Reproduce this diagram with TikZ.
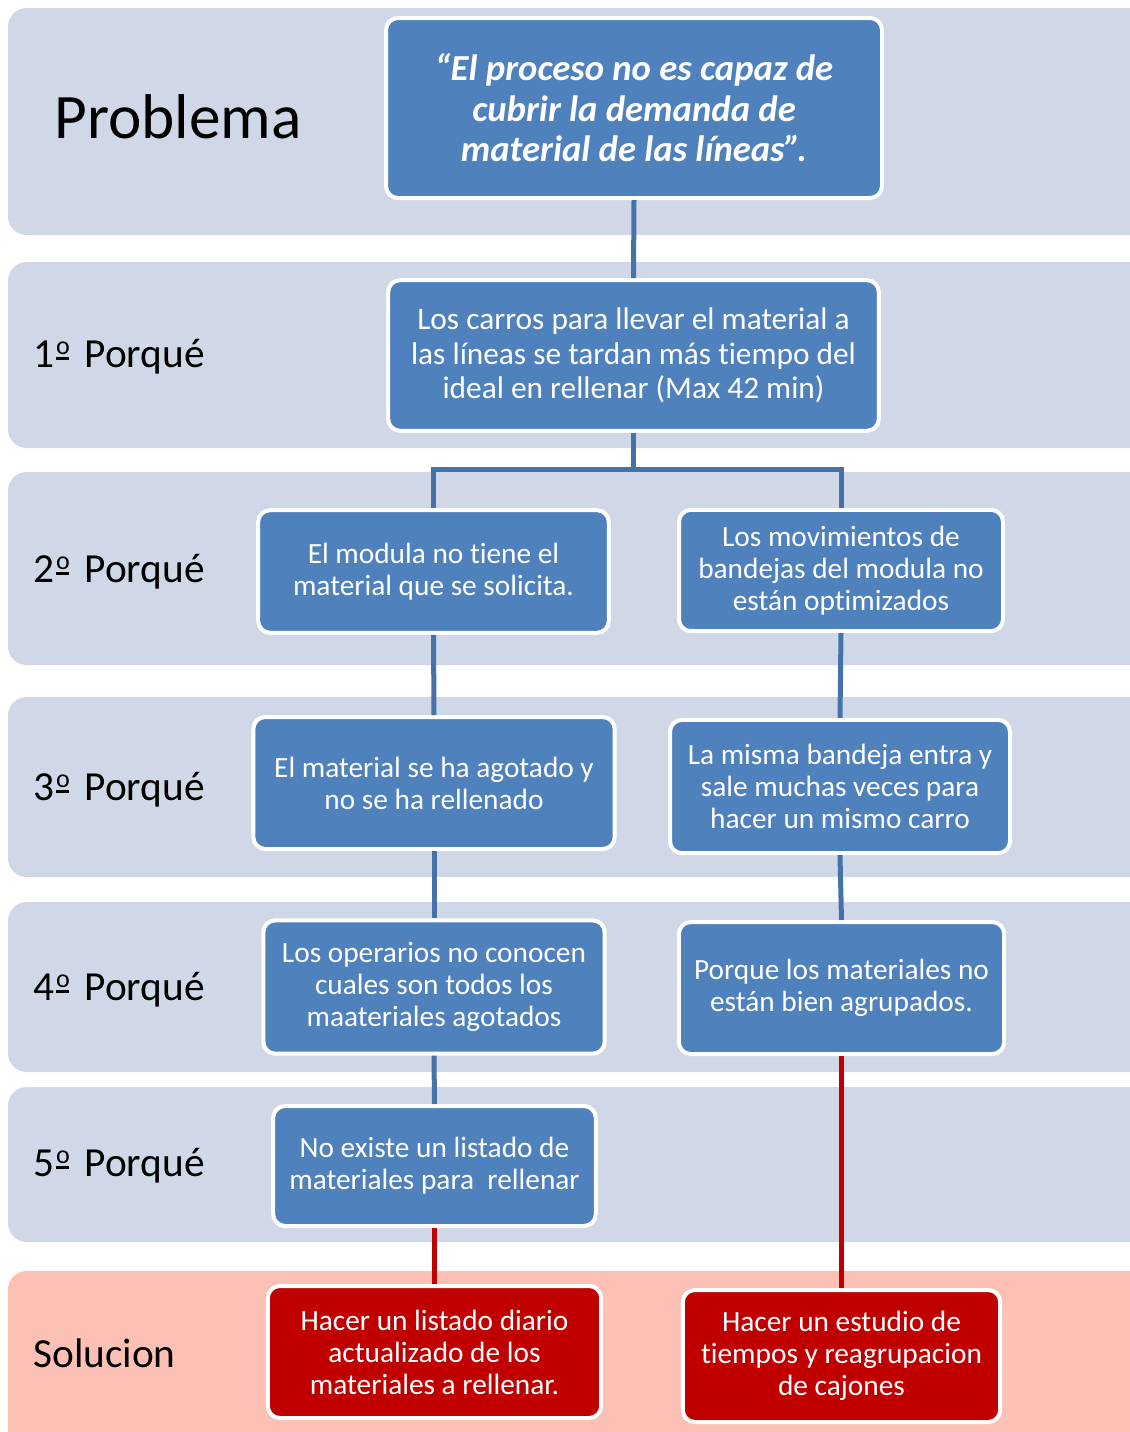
\documentclass[tikz,border=0pt]{standalone}
\usepackage{fontspec}
\setmainfont{Carlito}[Ligatures=CommonOff, RawFeature=-liga, RawFeature=-calt, RawFeature=-clig]
\usepackage{tikz}

\definecolor{bandblue}{HTML}{D0D8E8}
\definecolor{bandred}{HTML}{FCC1B4}
\definecolor{boxblue}{HTML}{4F81BD}
\definecolor{boxred}{HTML}{C00000}
\definecolor{lineblue}{HTML}{4672AA}

\newcommand\ordo{\hspace{1.5pt}\raisebox{5.6pt}{\rlap{\rule{9.8pt}{1.6pt}}}\raisebox{9.6pt}{\fontsize{19.5}{19.5}\selectfont o}\hspace{4pt}}

\tikzset{
  band/.style={fill=bandblue, draw=none, rounded corners=14},
  why/.style={draw=white, line width=3pt, fill=boxblue, rounded corners=9,
    text=white, align=center, inner sep=0pt,
    font=\fontsize{22}{24}\selectfont},
  fix/.style={why, fill=boxred},
  rowlabel/.style={anchor=base west, inner sep=0pt,
    font=\fontsize{31}{34}\selectfont},
  conn/.style={lineblue, line width=3.75pt},
  redconn/.style={boxred, line width=3.75pt}
}

\begin{document}
\begin{tikzpicture}[x=0.75pt, y=-0.75pt]

\useasboundingbox (0,0) rectangle (1130,1432);
\clip (0,0) rectangle (1130,1432);

\fill[band] (8,8) rectangle (1150,235);
\fill[band] (8,262) rectangle (1150,448);
\fill[band] (8,472) rectangle (1150,665);
\fill[band] (8,697) rectangle (1150,877);
\fill[band] (8,902) rectangle (1150,1072);
\fill[band] (8,1087) rectangle (1150,1242);
\fill[band, fill=bandred] (8,1271) rectangle (1150,1450);

\node[rowlabel, font=\fontsize{47.5}{50}\selectfont] (lprob) at (54,138) {Problema};
\node[rowlabel] (lone) at (33,367) {1\ordo{} Porqué};
\node[rowlabel] (ltwo) at (33,582) {2\ordo{} Porqué};
\node[rowlabel] (lthree) at (33,800) {3\ordo{} Porqué};
\node[rowlabel] (lfour) at (33,1000) {4\ordo{} Porqué};
\node[rowlabel] (lfive) at (33,1176) {5\ordo{} Porqué};
\node[rowlabel] (lsol) at (33,1367) {Solucion};

\node[why, minimum width=372pt, minimum height=135pt,
  font=\fontsize{27.5}{30.4}\selectfont\bfseries\itshape] (prob) at (634,108)
  {“El proceso no es capaz de\\cubrir la demanda de\\material de las líneas”.};
\node[why, minimum width=368pt, minimum height=113pt,
  font=\fontsize{23.5}{26}\selectfont] (one) at (633.5,355.5)
  {Los carros para llevar el material a\\las líneas se tardan más tiempo del\\ideal en rellenar (Max 42 min)};

\node[why, minimum width=263pt, minimum height=92pt] (twoa) at (433.5,571.5)
  {El modula no tiene el\\material que se solicita.};
\node[why, minimum width=243pt, minimum height=91pt] (twob) at (841,570.5)
  {Los movimientos de\\bandejas del modula no\\están optimizados};

\node[why, minimum width=271pt, minimum height=99pt] (threea) at (434,783)
  {El material se ha agotado y\\no se ha rellenado};
\node[why, minimum width=255pt, minimum height=100pt] (threeb) at (840,786.5)
  {La misma bandeja entra y\\sale muchas veces para\\hacer un mismo carro};

\node[why, minimum width=256pt, minimum height=100pt] (foura) at (434,987)
  {Los operarios no conocen\\cuales son todos los\\maateriales agotados};
\node[why, minimum width=244pt, minimum height=99pt] (fourb) at (841.5,988)
  {Porque los materiales no\\están bien agrupados.};

\node[why, minimum width=242pt, minimum height=90pt] (fivea) at (434.5,1166)
  {No existe un listado de\\materiales para\ \ rellenar};

\node[fix, minimum width=250pt, minimum height=99pt] (sola) at (434.5,1352)
  {Hacer un listado diario\\actualizado de los\\materiales a rellenar.};
\node[fix, minimum width=238pt, minimum height=99pt] (solb) at (841.5,1356)
  {Hacer un estudio de\\tiempos y reagrupacion\\de cajones};

\draw[conn] (prob.south) -- (one.north);
\draw[conn] (one.south) -- ++(0,37) -| (twoa.north);
\draw[conn] (one.south) -- ++(0,37) -| (twob.north);
\draw[conn] (twoa.south) -- (threea.north);
\draw[conn] (twob.south) -- (threeb.north);
\draw[conn] (threea.south) -- (foura.north);
\draw[conn] (threeb.south) -- (fourb.north);
\draw[conn] (foura.south) -- (fivea.north);
\draw[redconn] (fivea.south) -- (sola.north);
\draw[redconn] (fourb.south) -- (solb.north);

\end{tikzpicture}
\end{document}
